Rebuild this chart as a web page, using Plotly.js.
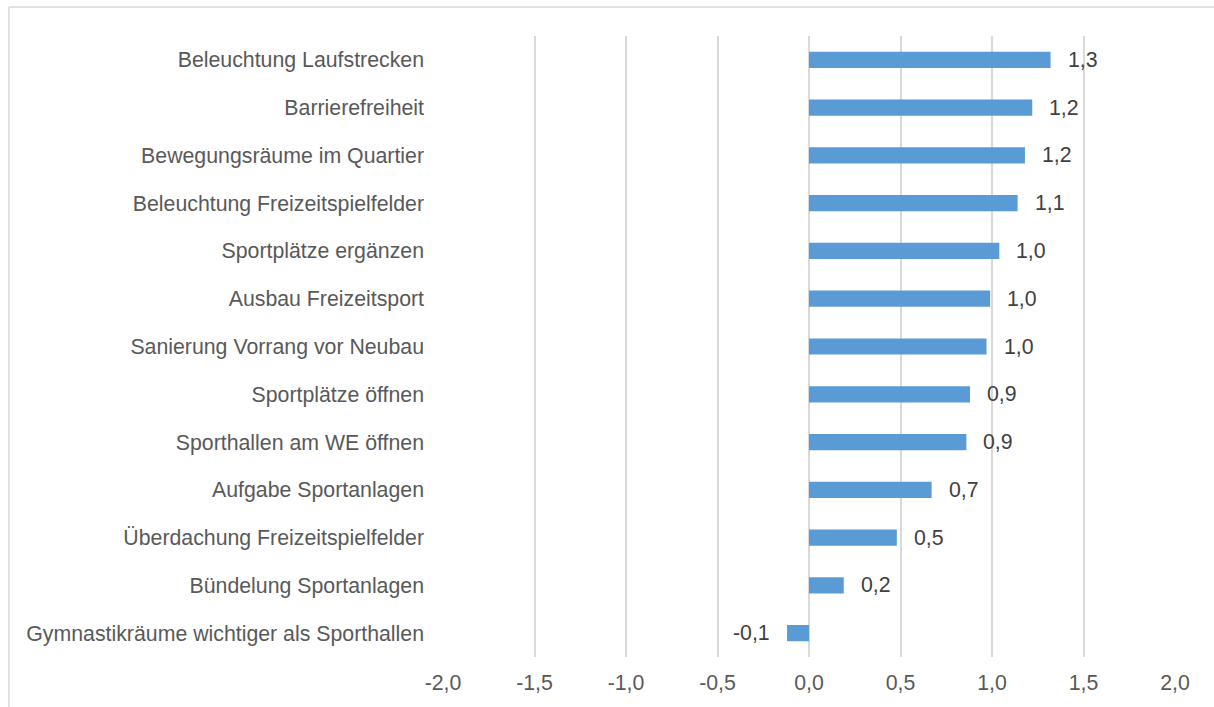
<!DOCTYPE html>
<html>
<head>
<meta charset="utf-8">
<script src="https://cdn.plot.ly/plotly-3.0.1.min.js"></script>
<style>
  html, body { margin: 0; padding: 0; background: #fff; }
  #chart { width: 1214px; height: 707px; }
</style>
</head>
<body>
<div id="chart"></div>
<script>
const categories = [
  "Beleuchtung Laufstrecken",
  "Barrierefreiheit",
  "Bewegungsräume im Quartier",
  "Beleuchtung Freizeitspielfelder",
  "Sportplätze ergänzen",
  "Ausbau Freizeitsport",
  "Sanierung Vorrang vor Neubau",
  "Sportplätze öffnen",
  "Sporthallen am WE öffnen",
  "Aufgabe Sportanlagen",
  "Überdachung Freizeitspielfelder",
  "Bündelung Sportanlagen",
  "Gymnastikräume wichtiger als Sporthallen"
];
const values = [1.32, 1.22, 1.18, 1.14, 1.04, 0.99, 0.97, 0.88, 0.86, 0.67, 0.48, 0.19, -0.12];
const tickValues = [-2, -1.5, -1, -0.5, 0, 0.5, 1, 1.5, 2];
const tickLabels = ["-2,0", "-1,5", "-1,0", "-0,5", "0,0", "0,5", "1,0", "1,5", "2,0"];

const fmt = v => v.toFixed(1).replace('.', ',');
const FONT = 'Liberation Sans, Arial, sans-serif';
const FS = 21.3;

const annotations = values.map((v, i) => ({
  x: v, y: categories[i], xref: 'x', yref: 'y',
  text: fmt(v), showarrow: false,
  xanchor: v >= 0 ? 'left' : 'right',
  xshift: v >= 0 ? 15 : -15,
  font: { family: FONT, size: FS, color: '#404040' }
}));

const trace = {
  type: 'bar', orientation: 'h',
  x: values, y: categories,
  marker: { color: '#5b9bd5' },
  hoverinfo: 'x+y'
};

const layout = {
  width: 1214, height: 707,
  margin: { l: 443, r: 39, t: 36, b: 50 },
  paper_bgcolor: '#ffffff', plot_bgcolor: '#ffffff',
  separators: ',.',
  bargap: 0.66,
  showlegend: false,
  font: { family: FONT, size: FS, color: '#595959' },
  xaxis: {
    range: [-2, 2], tickmode: 'array', tickvals: tickValues, ticktext: tickLabels,
    showgrid: true, gridcolor: '#d9d9d9', gridwidth: 2,
    zeroline: true, zerolinecolor: '#d9d9d9', zerolinewidth: 2,
    showline: false, ticks: '', ticklabelstandoff: 11,
    tickfont: { family: FONT, size: FS, color: '#595959' }, fixedrange: true
  },
  yaxis: {
    type: 'category', autorange: 'reversed',
    showgrid: false, zeroline: false, showline: false, ticks: '',
    ticklabelstandoff: 18,
    tickfont: { family: FONT, size: FS, color: '#595959' }, fixedrange: true
  },
  annotations: annotations,
  shapes: [
    { type: 'line', xref: 'paper', yref: 'paper', x0: -0.593, x1: 1.1, y0: 1.0467, y1: 1.0467,
      line: { color: '#d9d9d9', width: 1.5 } },
    { type: 'line', xref: 'paper', yref: 'paper', x0: -0.593, x1: -0.593, y0: 1.0467, y1: -0.2,
      line: { color: '#d9d9d9', width: 1.5 } }
  ]
};

Plotly.newPlot('chart', [trace], layout, { displayModeBar: false, staticPlot: true });
</script>
</body>
</html>
